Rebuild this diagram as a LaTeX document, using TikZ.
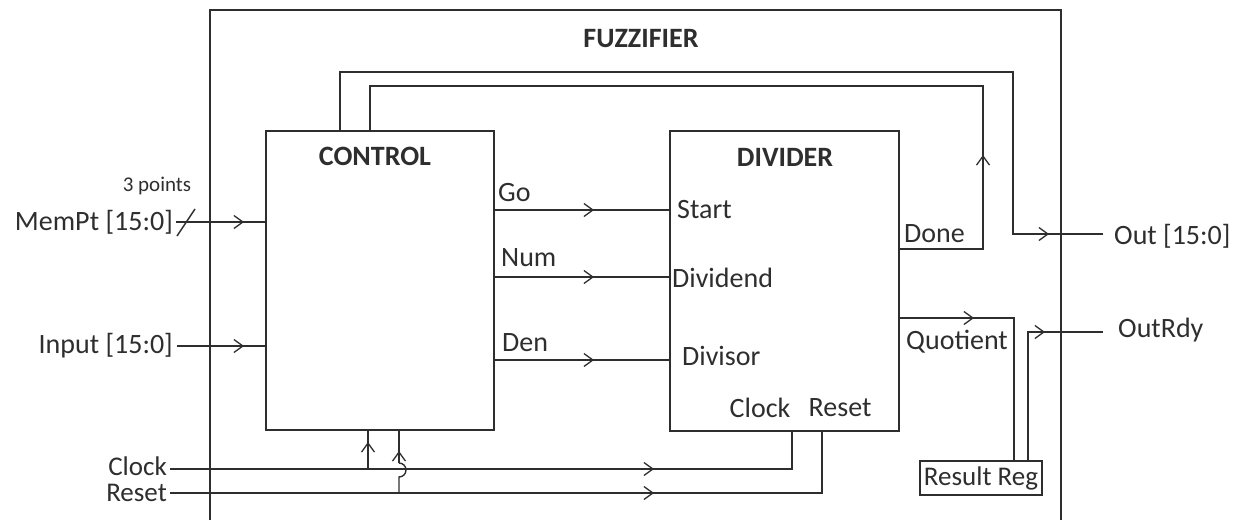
\documentclass[tikz,border=0pt]{standalone}
\usepackage{fontspec}
\setmainfont{Carlito}
\usetikzlibrary{arrows.meta,decorations.markings}
\definecolor{ink}{HTML}{2E2E2E}
\tikzset{
  wire/.style={draw=ink,line width=1.4pt},
  blk/.style={draw=ink,line width=1.4pt,rectangle,inner sep=0pt,outer sep=0pt,anchor=north west},
  chevat/.style={postaction={decorate,decoration={markings,mark=at position #1 with {\arrow[ink,line width=1.3pt]{Straight Barb[length=9pt,width=13pt]}}}}},
  lbl/.style={text=ink,font=\fontsize{28}{30}\selectfont,inner sep=0pt},
  small/.style={text=ink,font=\fontsize{21}{23}\selectfont,inner sep=0pt},
  ttl/.style={text=ink,font=\fontsize{28}{30}\selectfont\bfseries,inner sep=0pt}
}
\begin{document}
\begin{tikzpicture}[x=1pt,y=-1pt]
\useasboundingbox (0,0) rectangle (1242,520);
% outer fuzzifier (open at bottom)
\draw[wire] (210,520) -- (210,10) -- (1061,10) -- (1061,520);
\node[ttl] (fz) at (641,39) {FUZZIFIER};
% blocks
\node[blk,minimum width=228pt,minimum height=299pt] (ctrl) at (266,131) {};
\node[blk,minimum width=229pt,minimum height=300pt] (div) at (670,131) {};
\node[blk,minimum width=122pt,minimum height=34pt] (rr) at (920,461) {};
\node[lbl,font=\fontsize{27}{29}\selectfont] (rrt) at (rr.center) {Result Reg};
\node[ttl] (ctitle) at (375,156) {CONTROL};
\node[ttl] (dtitle) at (785,157) {DIVIDER};
% left labels
\node[lbl,anchor=east] (mem) at (173,222) {MemPt [15:0]};
\node[small] (pts) at (157,186) {3 points};
\node[lbl,anchor=east] (inp) at (173,346) {Input [15:0]};
\node[lbl,anchor=east,font=\fontsize{27}{29}\selectfont] (clk) at (167,466) {Clock};
\node[lbl,anchor=east,font=\fontsize{27}{29}\selectfont] (rst) at (167,493) {Reset};
% right labels
\node[lbl,anchor=west] (out) at (1114,236) {Out [15:0]};
\node[lbl,anchor=west] (rdy) at (1118,330) {OutRdy};
% port labels
\node[lbl,anchor=west] (go) at (498,193) {Go};
\node[lbl,anchor=west] (num) at (501,258) {Num};
\node[lbl,anchor=west] (den) at (502,343) {Den};
\node[lbl,anchor=west] (start) at (677,210) {Start};
\node[lbl,anchor=west] (dvd) at (672,278) {Dividend};
\node[lbl,anchor=west] (dvs) at (682,356) {Divisor};
\node[lbl,anchor=west] (done) at (904,234) {Done};
\node[lbl,anchor=west] (quo) at (906,342) {Quotient};
\node[lbl] (dclk) at (760,408) {Clock};
\node[lbl] (drst) at (840,408) {Reset};
% inputs to control
\draw[wire,chevat=-22pt] (mem.east) ++(3,0) coordinate (m0) -- (m0 -| ctrl.west);
\coordinate (slc) at (186,222);
\draw[wire] ([shift={(-9,14)}]slc) -- ([shift={(9,-13)}]slc);
\draw[wire,chevat=-22pt] (inp.east) ++(4,0) coordinate (i0) -- (i0 -| ctrl.west);
% control to divider
\draw[wire,chevat=100pt] (ctrl.east |- 0,210) coordinate (g0) -- (g0 -| div.west);
\draw[wire,chevat=100pt] (ctrl.east |- 0,277) coordinate (n0) -- (n0 -| div.west);
\draw[wire,chevat=100pt] (ctrl.east |- 0,360) coordinate (d0) -- (d0 -| div.west);
% Out loop
\coordinate (oend) at (1103,234);
\draw[wire,chevat=-54pt] (ctrl.north -| 340,0) -- (340,72) -- (1013,72) -- (1013,234) -- (oend);
% Done loop
\draw[wire,chevat=178pt] (div.east |- 0,249) -- (983,249) -- (983,86) -- (370,86) -- (ctrl.north -| 370,0);
% Quotient to result reg
\draw[wire,chevat=75pt] (div.east |- 0,318) -- (1014,318) -- (rr.north -| 1014,0);
% Result reg to OutRdy
\coordinate (rend) at (1103,332);
\draw[wire,chevat=-58pt] (rr.north -| 1028,0) -- (1028,332) -- (rend);
% Clock
\coordinate (c0) at ([xshift=3pt]clk.east |- 0,469);
\draw[wire,chevat=484pt] (c0) -- (792,469) -- (div.south -| 792,0);
\coordinate (ctap) at (368,469);
\draw[wire,chevat=27pt] (ctap) -- (ctap |- ctrl.south);
% Reset
\coordinate (r0) at ([xshift=3pt]rst.east |- 0,493);
\draw[wire,chevat=484pt] (r0) -- (822,493) -- (div.south -| 822,0);
\coordinate (rtap) at (399,493);
\draw[wire] (rtap) -- (399,477) arc[start angle=90,end angle=-90,radius=7] -- (399,463);
\draw[wire,chevat=12pt] (399,463) -- (rtap |- ctrl.south);
\end{tikzpicture}
\end{document}
